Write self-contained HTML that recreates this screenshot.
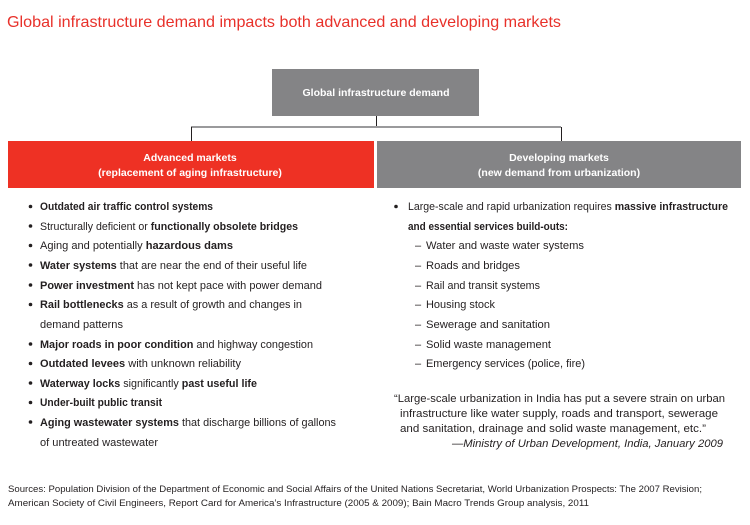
<!DOCTYPE html>
<html><head><meta charset="utf-8"><style>
html,body{margin:0;padding:0;background:#fff;}
svg{display:block;font-family:"Liberation Sans",sans-serif;}
.t{font-size:11px;fill:#231f20;}
.b{font-weight:bold;}
</style></head><body>
<svg width="750" height="525" viewBox="0 0 750 525">
<text x="7" y="27" font-size="16" fill="#e8312a" textLength="554" lengthAdjust="spacingAndGlyphs">Global infrastructure demand impacts both advanced and developing markets</text>
<rect x="272" y="69" width="207" height="47" fill="#848486"/>
<text x="376" y="96" font-size="10.5" font-weight="bold" fill="#fff" text-anchor="middle" textLength="147" lengthAdjust="spacingAndGlyphs">Global infrastructure demand</text>
<line x1="376.5" y1="116" x2="376.5" y2="127" stroke="#231f20" stroke-width="1"/>
<line x1="191" y1="127" x2="561" y2="127" stroke="#9a9a9c" stroke-width="2"/>
<line x1="191.5" y1="127" x2="191.5" y2="141" stroke="#231f20" stroke-width="1"/>
<line x1="561.5" y1="127" x2="561.5" y2="141" stroke="#231f20" stroke-width="1"/>
<rect x="8" y="141" width="366" height="47" fill="#ee3124"/>
<rect x="377" y="141" width="364" height="47" fill="#848486"/>
<g font-size="10.5" font-weight="bold" fill="#fff" text-anchor="middle">
<text x="190" y="161">Advanced markets</text>
<text x="190" y="176">(replacement of aging infrastructure)</text>
<text x="559" y="161">Developing markets</text>
<text x="559" y="176">(new demand from urbanization)</text>
</g>
<g class="t">
<g fill="#231f20">
<circle cx="30.5" cy="206.5" r="1.8"/><circle cx="30.5" cy="226" r="1.8"/><circle cx="30.5" cy="245.5" r="1.8"/><circle cx="30.5" cy="265" r="1.8"/><circle cx="30.5" cy="285" r="1.8"/><circle cx="30.5" cy="304.5" r="1.8"/><circle cx="30.5" cy="344" r="1.8"/><circle cx="30.5" cy="363.5" r="1.8"/><circle cx="30.5" cy="383" r="1.8"/><circle cx="30.5" cy="402.5" r="1.8"/><circle cx="30.5" cy="422" r="1.8"/>
<circle cx="396" cy="206.5" r="1.8"/>
</g>
<text x="40" y="210" textLength="173" lengthAdjust="spacingAndGlyphs"><tspan class="b">Outdated air traffic control systems</tspan></text>
<text x="40" y="230" textLength="258" lengthAdjust="spacingAndGlyphs">Structurally deficient or <tspan class="b">functionally obsolete bridges</tspan></text>
<text x="40" y="249" textLength="193" lengthAdjust="spacingAndGlyphs">Aging and potentially <tspan class="b">hazardous dams</tspan></text>
<text x="40" y="269" textLength="267" lengthAdjust="spacingAndGlyphs"><tspan class="b">Water systems</tspan> that are near the end of their useful life</text>
<text x="40" y="289" textLength="282" lengthAdjust="spacingAndGlyphs"><tspan class="b">Power investment</tspan> has not kept pace with power demand</text>
<text x="40" y="308" textLength="262" lengthAdjust="spacingAndGlyphs"><tspan class="b">Rail bottlenecks</tspan> as a result of growth and changes in</text>
<text x="40" y="328" textLength="83" lengthAdjust="spacingAndGlyphs">demand patterns</text>
<text x="40" y="348" textLength="273" lengthAdjust="spacingAndGlyphs"><tspan class="b">Major roads in poor condition</tspan> and highway congestion</text>
<text x="40" y="367" textLength="201" lengthAdjust="spacingAndGlyphs"><tspan class="b">Outdated levees</tspan> with unknown reliability</text>
<text x="40" y="387" textLength="217" lengthAdjust="spacingAndGlyphs"><tspan class="b">Waterway locks</tspan> significantly <tspan class="b">past useful life</tspan></text>
<text x="40" y="406" textLength="122" lengthAdjust="spacingAndGlyphs"><tspan class="b">Under-built public transit</tspan></text>
<text x="40" y="426" textLength="296" lengthAdjust="spacingAndGlyphs"><tspan class="b">Aging wastewater systems</tspan> that discharge billions of gallons</text>
<text x="40" y="446" textLength="118" lengthAdjust="spacingAndGlyphs">of untreated wastewater</text>

<text x="408" y="210" textLength="320" lengthAdjust="spacingAndGlyphs">Large-scale and rapid urbanization requires <tspan class="b">massive infrastructure</tspan></text>
<text x="408" y="230" textLength="160" lengthAdjust="spacingAndGlyphs"><tspan class="b">and essential services build-outs:</tspan></text>
<text x="415" y="249">–</text><text x="426" y="249" textLength="158" lengthAdjust="spacingAndGlyphs">Water and waste water systems</text>
<text x="415" y="269">–</text><text x="426" y="269" textLength="94" lengthAdjust="spacingAndGlyphs">Roads and bridges</text>
<text x="415" y="289">–</text><text x="426" y="289" textLength="114" lengthAdjust="spacingAndGlyphs">Rail and transit systems</text>
<text x="415" y="308">–</text><text x="426" y="308" textLength="69" lengthAdjust="spacingAndGlyphs">Housing stock</text>
<text x="415" y="328">–</text><text x="426" y="328" textLength="124" lengthAdjust="spacingAndGlyphs">Sewerage and sanitation</text>
<text x="415" y="348">–</text><text x="426" y="348" textLength="125" lengthAdjust="spacingAndGlyphs">Solid waste management</text>
<text x="415" y="367">–</text><text x="426" y="367" textLength="159" lengthAdjust="spacingAndGlyphs">Emergency services (police, fire)</text>

<text x="394" y="402" textLength="331" lengthAdjust="spacingAndGlyphs">“Large-scale urbanization in India has put a severe strain on urban</text>
<text x="400" y="417" textLength="318" lengthAdjust="spacingAndGlyphs">infrastructure like water supply, roads and transport, sewerage</text>
<text x="400" y="432" textLength="306" lengthAdjust="spacingAndGlyphs">and sanitation, drainage and solid waste management, etc.”</text>
<text x="452" y="447" font-style="italic" textLength="271" lengthAdjust="spacingAndGlyphs">—Ministry of Urban Development, India, January 2009</text>
</g>
<g font-size="9" fill="#231f20">
<text x="8" y="492" textLength="694" lengthAdjust="spacingAndGlyphs">Sources: Population Division of the Department of Economic and Social Affairs of the United Nations Secretariat, World Urbanization Prospects: The 2007 Revision;</text>
<text x="8" y="506" textLength="581" lengthAdjust="spacingAndGlyphs">American Society of Civil Engineers, Report Card for America’s Infrastructure (2005 &amp; 2009); Bain Macro Trends Group analysis, 2011</text>
</g>
</svg>
</body></html>
